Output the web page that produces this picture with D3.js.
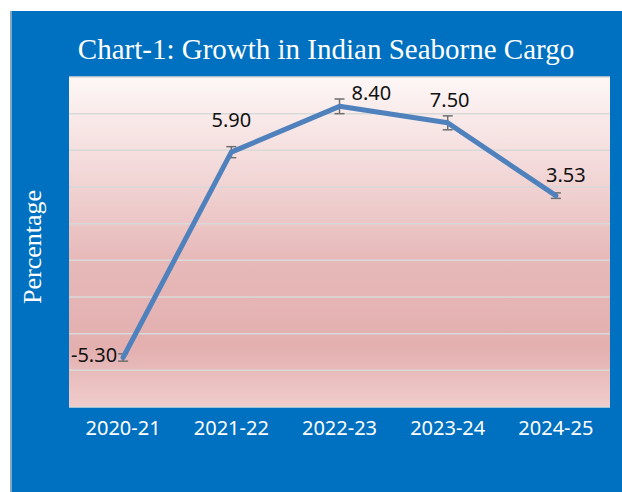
<!DOCTYPE html>
<html>
<head>
<meta charset="utf-8">
<script src="https://cdn.jsdelivr.net/npm/d3@7"></script>
<style>
  body { margin: 0; background: #fff; }
  svg { display: block; }
</style>
</head>
<body>
<script>
const years = ["2020-21", "2021-22", "2022-23", "2023-24", "2024-25"];
const growth = [-5.30, 5.90, 8.40, 7.50, 3.53];
const errors = [0.2, 0.3, 0.4, 0.38, 0.15];
const yTicks = [-8, -6, -4, -2, 0, 2, 4, 6, 8, 10];
// label placement relative to the point: [dx, dy, anchor]
const labelPos = [[-6, 4, "end"], [0, -25, "middle"], [12, -6, "start"], [2, -16, "middle"], [10, -14, "middle"]];

const width = 622;
const height = 492;
const plot = { left: 69, right: 610, top: 77, bottom: 407 };

const svg = d3
  .select("body")
  .append("svg")
  .attr("width", width)
  .attr("height", height);

// blue frame
svg.append("rect").attr("x", 10).attr("y", 11).attr("width", width - 10).attr("height", height - 11)
  .attr("fill", "#0070c0");
svg.append("line").attr("x1", 11).attr("x2", 11).attr("y1", 11).attr("y2", height)
  .attr("stroke", "#b0b8c4").attr("stroke-width", 1.5);

const defs = svg.append("defs");
const grad = defs.append("linearGradient").attr("id", "bg").attr("x1", 0).attr("x2", 0).attr("y1", 0).attr("y2", 1);
[["0%", "#fdf7f6"], ["25%", "#f4dcdc"], ["55%", "#e7b9b9"], ["82%", "#e3afaf"], ["100%", "#f0cdcc"]].forEach((s) => {
  grad.append("stop").attr("offset", s[0]).attr("stop-color", s[1]);
});

svg.append("rect")
  .attr("x", plot.left).attr("y", plot.top)
  .attr("width", plot.right - plot.left).attr("height", plot.bottom - plot.top)
  .attr("fill", "url(#bg)");

const x = d3.scaleBand().domain(years).range([plot.left, plot.right]);
const y = d3.scaleLinear().domain([-8, 10]).range([plot.bottom, plot.top]);
const cx = (d) => x(d) + x.bandwidth() / 2;

// gridlines
svg.append("g")
  .selectAll("line")
  .data(yTicks)
  .enter()
  .append("line")
  .attr("x1", plot.left)
  .attr("x2", plot.right)
  .attr("y1", (d) => y(d))
  .attr("y2", (d) => y(d))
  .attr("stroke", "#d9d9d9")
  .attr("stroke-width", 1.5);

// x axis labels
const xAxis = d3.axisBottom(x).tickSize(0).tickPadding(14);
const gx = svg.append("g").attr("transform", `translate(0,${plot.bottom})`).call(xAxis);
gx.select(".domain").remove();
gx.selectAll("text")
  .attr("fill", "#fff")
  .attr("font-family", "'Noto Sans', sans-serif")
  .attr("font-size", 20);

const data = years.map((yr, i) => ({ yr, v: growth[i], e: errors[i], p: labelPos[i] }));

// error bars
const eb = svg.append("g").attr("stroke", "#6e6e6e").attr("stroke-width", 1.5);
data.forEach((d) => {
  const X = cx(d.yr);
  eb.append("line").attr("x1", X).attr("x2", X).attr("y1", y(d.v + d.e)).attr("y2", y(d.v - d.e));
  eb.append("line").attr("x1", X - 5).attr("x2", X + 5).attr("y1", y(d.v + d.e)).attr("y2", y(d.v + d.e));
  eb.append("line").attr("x1", X - 5).attr("x2", X + 5).attr("y1", y(d.v - d.e)).attr("y2", y(d.v - d.e));
});

const line = d3.line().x((d) => cx(d.yr)).y((d) => y(d.v));
svg.append("path")
  .datum(data)
  .attr("d", line)
  .attr("fill", "none")
  .attr("stroke", "#4f81bd")
  .attr("stroke-width", 5)
  .attr("stroke-linejoin", "round")
  .attr("stroke-linecap", "round");

// data labels
svg.append("g")
  .selectAll("text")
  .data(data)
  .enter()
  .append("text")
  .attr("x", (d) => cx(d.yr) + d.p[0])
  .attr("y", (d) => y(d.v) + d.p[1])
  .attr("text-anchor", (d) => d.p[2])
  .attr("font-family", "'Noto Sans', sans-serif")
  .attr("font-size", 20)
  .attr("fill", "#111")
  .text((d) => d.v.toFixed(2));

// title
svg.append("text")
  .attr("x", 326)
  .attr("y", 59)
  .attr("text-anchor", "middle")
  .attr("font-family", "'Liberation Serif', 'Times New Roman', serif")
  .attr("font-size", 29)
  .attr("fill", "#fff")
  .text("Chart-1: Growth in Indian Seaborne Cargo");

// y axis title
svg.append("text")
  .attr("transform", "translate(41,247) rotate(-90)")
  .attr("text-anchor", "middle")
  .attr("font-family", "'Liberation Serif', 'Times New Roman', serif")
  .attr("font-size", 26)
  .attr("fill", "#fff")
  .text("Percentage");
</script>
</body>
</html>
